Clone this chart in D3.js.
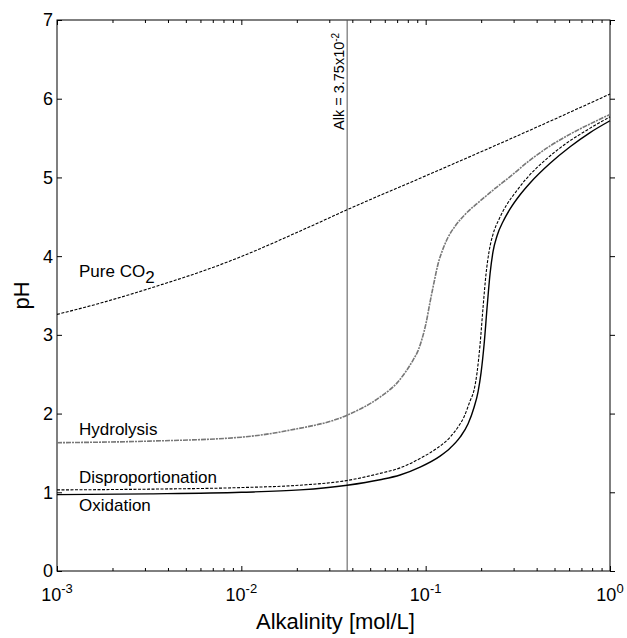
<!DOCTYPE html>
<html>
<head>
<meta charset="utf-8">
<script src="https://cdn.jsdelivr.net/npm/d3@7"></script>
<style>
  body { margin: 0; background: #fff; }
  text { font-family: "Liberation Sans", Arial, Helvetica, sans-serif; fill: #000; }
</style>
</head>
<body>
<div id="chart"></div>
<script>
// values
var pureAlk = [0.001, 0.0017, 0.0036, 0.0068, 0.01, 0.02, 0.0375, 0.1, 0.368, 1];
var purePH  = [3.26, 3.40, 3.63, 3.845, 3.995, 4.30, 4.59, 5.02, 5.60, 6.06];

var hydAlk = [0.001, 0.00316, 0.01, 0.0184, 0.0375, 0.05656, 0.06996, 0.07731, 0.08543, 0.09095, 0.09561, 0.1005,
              0.1057, 0.1111, 0.1167, 0.1227, 0.1323, 0.1444, 0.1636, 0.1973, 0.2380, 0.2871, 0.3684, 0.4732, 0.6075, 0.7798, 1];
var hydPH  = [1.63, 1.65, 1.70, 1.79, 1.98, 2.21, 2.39, 2.52, 2.68, 2.80, 2.95, 3.15,
              3.42, 3.67, 3.90, 4.06, 4.24, 4.38, 4.53, 4.70, 4.86, 5.01, 5.22, 5.40, 5.55, 5.68, 5.80];

var dispAlk = [0.001, 0.003195, 0.01, 0.02082, 0.0375, 0.05656, 0.07263, 0.09324, 0.1153, 0.1356, 0.1499, 0.1616, 0.1741,
               0.1831, 0.1900, 0.1973, 0.2048, 0.2127, 0.2208, 0.2321, 0.2502, 0.2731, 0.3094, 0.3506, 0.4501, 0.5851, 0.7606, 1];
var dispPH  = [1.03, 1.04, 1.06, 1.09, 1.15, 1.24, 1.31, 1.43, 1.56, 1.70, 1.83, 1.96, 2.16,
               2.30, 2.52, 2.88, 3.35, 3.78, 4.06, 4.28, 4.47, 4.64, 4.82, 4.98, 5.23, 5.44, 5.61, 5.77];

var oxAlk = [0.001, 0.003195, 0.01, 0.02082, 0.0375, 0.05656, 0.07263, 0.09324, 0.1197, 0.1356, 0.1537, 0.1699, 0.1831,
             0.1925, 0.1998, 0.2075, 0.2154, 0.2236, 0.2321, 0.2440, 0.2630, 0.2871, 0.3252, 0.3684, 0.4732, 0.6075, 0.7798, 1];
var oxPH  = [0.97, 0.98, 1.00, 1.03, 1.09, 1.16, 1.22, 1.32, 1.46, 1.56, 1.70, 1.87, 2.08,
             2.28, 2.52, 2.88, 3.35, 3.78, 4.06, 4.26, 4.44, 4.60, 4.78, 4.93, 5.18, 5.39, 5.57, 5.72];

var alkMarker = 0.0375;
var xMajor = [0.001, 0.01, 0.1, 1];
var xExp = ["-3", "-2", "-1", "0"];
var yTicks = [0, 1, 2, 3, 4, 5, 6, 7];

// plot box
var margin = {top: 20, right: 17, bottom: 67, left: 57},
    W = 627, H = 638,
    width = W - margin.left - margin.right,
    height = H - margin.top - margin.bottom;

var svg = d3.select("#chart").append("svg")
    .attr("width", W)
    .attr("height", H);

var g = svg.append("g")
    .attr("transform", "translate(" + margin.left + "," + margin.top + ")");

var x = d3.scaleLog().domain([1e-3, 1]).range([0, width]);
var y = d3.scaleLinear().domain([0, 7]).range([height, 0]);

// minor ticks of the log axis
var xMinor = [];
xMajor.slice(0, 3).forEach(function(d) {
    for (var k = 2; k <= 9; k++) xMinor.push(d * k);
});

// ticks (inward, on all four sides)
function xTicks(axisFn, yPos) {
    var a = g.append("g")
        .attr("transform", "translate(0," + yPos + ")")
        .call(axisFn(x).tickValues(xMajor.concat(xMinor)).tickSizeInner(yPos ? -3 : 3).tickSizeOuter(0).tickFormat(""));
    a.select(".domain").remove();
    a.selectAll(".tick line")
        .attr("stroke", "#000")
        .attr("y2", function(d) {
            var major = xMajor.indexOf(d) >= 0;
            return (yPos ? -1 : 1) * (major ? 5 : 3);
        });
    return a;
}
xTicks(d3.axisBottom, height);
xTicks(d3.axisTop, 0);

function yTickAxis(axisFn, xPos) {
    var a = g.append("g")
        .attr("transform", "translate(" + xPos + ",0)")
        .call(axisFn(y).tickValues(yTicks).tickSizeInner(xPos ? 5 : -5).tickSizeOuter(0).tickFormat(""));
    a.select(".domain").remove();
    a.selectAll(".tick line").attr("stroke", "#000");
    return a;
}
yTickAxis(d3.axisLeft, 0);
yTickAxis(d3.axisRight, width);

// frame
g.append("rect")
    .attr("width", width)
    .attr("height", height)
    .attr("fill", "none")
    .attr("stroke", "#000")
    .attr("stroke-width", 1);

// y tick labels
g.selectAll(".ylab")
    .data(yTicks)
    .enter().append("text")
    .attr("x", -4)
    .attr("y", function(d) { return y(d); })
    .attr("dy", "0.36em")
    .attr("text-anchor", "end")
    .attr("font-size", "18px")
    .text(function(d) { return d; });

// x tick labels as 10^n
var xl = g.selectAll(".xlab")
    .data(xMajor)
    .enter().append("text")
    .attr("x", function(d) { return x(d); })
    .attr("y", height + 30)
    .attr("text-anchor", "middle")
    .attr("font-size", "18px");
xl.append("tspan").text("10");
xl.append("tspan")
    .attr("dy", "-0.6em")
    .attr("font-size", "13px")
    .text(function(d, i) { return xExp[i]; });

// axis titles
g.append("text")
    .attr("x", width / 2 + 2)
    .attr("y", height + 58)
    .attr("text-anchor", "middle")
    .attr("font-size", "22px")
    .text("Alkalinity [mol/L]");

g.append("text")
    .attr("transform", "translate(" + (-28) + "," + (height / 2) + ") rotate(-90)")
    .attr("text-anchor", "middle")
    .attr("font-size", "22px")
    .text("pH");

// vertical marker
g.append("line")
    .attr("x1", x(alkMarker))
    .attr("x2", x(alkMarker))
    .attr("y1", 0)
    .attr("y2", height)
    .attr("stroke", "#555")
    .attr("stroke-width", 1);

var mk = g.append("text")
    .attr("transform", "translate(" + (x(alkMarker) - 3) + "," + 110 + ") rotate(-90)")
    .attr("text-anchor", "start")
    .attr("font-size", "14.5px");
mk.append("tspan").text("Alk = 3.75x10");
mk.append("tspan").attr("dy", "-0.55em").attr("font-size", "10px").text("-2");

// curves
function series(alk, ph) {
    return alk.map(function(a, i) { return {a: a, p: ph[i]}; });
}
var line = d3.line()
    .curve(d3.curveMonotoneX)
    .x(function(d) { return x(d.a); })
    .y(function(d) { return y(d.p); });

g.append("path")
    .datum(series(pureAlk, purePH))
    .attr("fill", "none")
    .attr("stroke", "#000")
    .attr("stroke-width", 1.1)
    .attr("stroke-dasharray", "3,1.5")
    .attr("d", line);

g.append("path")
    .datum(series(hydAlk, hydPH))
    .attr("fill", "none")
    .attr("stroke", "#777")
    .attr("stroke-width", 1.6)
    .attr("stroke-dasharray", "5,1,2,1")
    .attr("d", line);

g.append("path")
    .datum(series(dispAlk, dispPH))
    .attr("fill", "none")
    .attr("stroke", "#000")
    .attr("stroke-width", 1.1)
    .attr("stroke-dasharray", "3,1.5")
    .attr("d", line);

g.append("path")
    .datum(series(oxAlk, oxPH))
    .attr("fill", "none")
    .attr("stroke", "#000")
    .attr("stroke-width", 1.4)
    .attr("d", line);

// curve labels
var pc = g.append("text")
    .attr("x", 22)
    .attr("y", 257)
    .attr("font-size", "17px");
pc.append("tspan").text("Pure CO");
pc.append("tspan").attr("dy", "0.35em").text("2");

g.append("text").attr("x", 22).attr("y", 415).attr("font-size", "17px").text("Hydrolysis");
g.append("text").attr("x", 22).attr("y", 463).attr("font-size", "17px").text("Disproportionation");
g.append("text").attr("x", 22).attr("y", 491).attr("font-size", "17px").text("Oxidation");
</script>
</body>
</html>
